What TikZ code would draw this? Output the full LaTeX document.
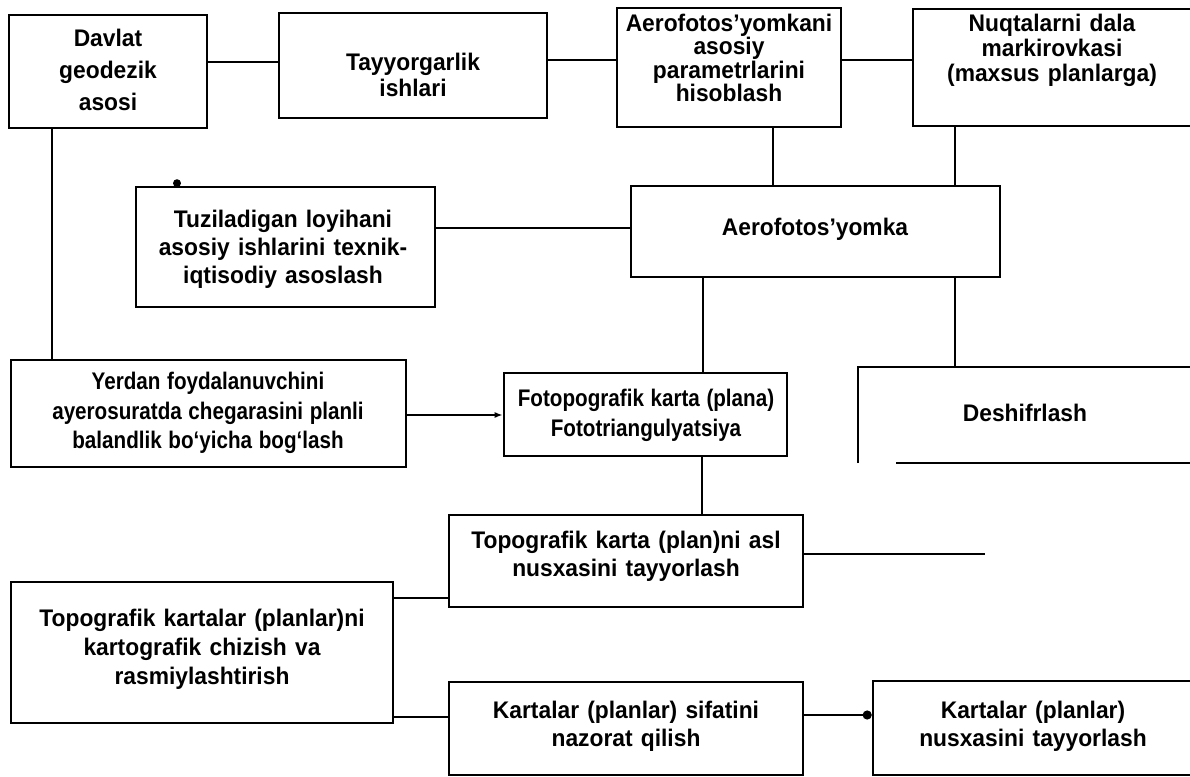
\documentclass[tikz,border=0pt]{standalone}
\usepackage{fontspec}
\setmainfont{Liberation Sans}[FakeStretch=0.95, WordSpace=1.3]
\newfontfamily\narrowfont{Liberation Sans}[FakeStretch=0.86, WordSpace=1.15]
\usetikzlibrary{arrows.meta}
\begin{document}
\begin{tikzpicture}[x=1pt,y=-1pt,
  box/.style={draw=black, line width=2.6pt, rectangle, inner sep=0pt},
  txt/.style={align=center, inner sep=0pt, font=\fontsize{24}{#1}\selectfont\bfseries},
  conn/.style={draw=black, line width=2.6pt},
  every path/.style={line join=miter}]
\fill[white] (0,0) rectangle (1190,776);
\useasboundingbox (0,0) rectangle (1190,776);

% boxes
\node[box, minimum width=198pt, minimum height=113pt] (A) at (108,71.5) {};
\node[box, minimum width=268pt, minimum height=105pt] (B) at (413,65.5) {};
\node[box, minimum width=224pt, minimum height=119pt] (C) at (729,67.5) {};
\node[box, minimum width=290pt, minimum height=117pt] (D) at (1058,67.5) {};
\node[box, minimum width=299pt, minimum height=120pt] (E) at (285.5,247) {};
\node[box, minimum width=369pt, minimum height=91pt] (H) at (815.5,231.5) {};
\node[box, minimum width=395pt, minimum height=107pt] (F) at (208.5,413.5) {};
\node[box, minimum width=283pt, minimum height=83pt] (G) at (645.5,414.5) {};
\node[box, minimum width=354pt, minimum height=92pt] (I) at (626,561) {};
\node[box, minimum width=382pt, minimum height=141pt] (J) at (202,652.5) {};
\node[box, minimum width=354pt, minimum height=93pt] (K) at (626,728.5) {};
\node[box, minimum width=330pt, minimum height=94pt] (L) at (1038,728) {};

% Deshifrlash (open frame)
\coordinate (deshtop) at (955,367);
\draw[conn] (858,463) -- (858,367) -- (1200,367);
\draw[conn] (896,463) -- (1200,463);

% texts
\node[txt=32] (tA) at (108,70) {Davlat\\geodezik\\asosi};
\node[txt=26] (tB) at (413,75) {Tayyorgarlik\\ishlari};
\node[txt=23.5] (tC) at (729,58) {Aerofotos’yomkani\\asosiy\\parametrlarini\\hisoblash};
\node[txt=25] (tD) at (1052,50) {Nuqtalarni dala\\markirovkasi\\(maxsus planlarga)};
\node[txt=28] (tE) at (283,249) {Tuziladigan loyihani\\asosiy ishlarini texnik-\\iqtisodiy asoslash};
\node[txt=28] (tH) at (815,229) {Aerofotos’yomka};
\node[txt=29.5, font=\narrowfont\fontsize{24}{29.5}\selectfont\bfseries] (tF) at (208,413) {Yerdan foydalanuvchini\\ayerosuratda chegarasini planli\\balandlik bo‘yicha bog‘lash};
\node[txt=30, font=\narrowfont\fontsize{24}{30}\selectfont\bfseries] (tG) at (646,415) {Fotopografik karta (plana)\\Fototriangulyatsiya};
\node[txt=28] (desh) at (1025,413) {Deshifrlash};
\node[txt=28] (tI) at (626,556) {Topografik karta (plan)ni asl\\nusxasini tayyorlash};
\node[txt=29] (tJ) at (202,649) {Topografik kartalar (planlar)ni\\kartografik chizish va\\rasmiylashtirish};
\node[txt=28] (tK) at (626,726) {Kartalar (planlar) sifatini\\nazorat qilish};
\node[txt=28] (tL) at (1033,726) {Kartalar (planlar)\\nusxasini tayyorlash};

\coordinate (iend) at (985,554);

% connectors
\draw[conn] (A.east |- 0,62) -- (B.west |- 0,62);
\draw[conn] (B.east |- 0,60) -- (C.west |- 0,60);
\draw[conn] (C.east |- 0,60) -- (D.west |- 0,60);
\draw[conn] (A.south -| 52,0) -- (F.north -| 52,0);
\draw[conn] (C.south -| 773,0) -- (H.north -| 773,0);
\draw[conn] (D.south -| 955,0) -- (H.north -| 955,0);
\draw[conn] (E.east |- 0,228) -- (H.west |- 0,228);
\draw[conn] (H.south -| 703,0) -- (G.north -| 703,0);
\draw[conn] (H.south -| 955,0) -- (deshtop);
\draw[conn, -{Latex[length=8pt,width=6pt]}] (F.east |- 0,415) -- (G.west |- 0,415);
\draw[conn] (G.south -| 702,0) -- (I.north -| 702,0);
\draw[conn] (I.east |- 0,554) -- (iend);
\draw[conn] (J.east |- 0,598) -- (I.west |- 0,598);
\draw[conn] (J.east |- 0,717) -- (K.west |- 0,717);
\draw[conn, -{Circle[length=9pt]}] (K.east |- 0,715) -- (L.west |- 0,715);
\fill ([yshift=2.5pt]E.north -| 177,0) circle (4pt);
\end{tikzpicture}
\end{document}
